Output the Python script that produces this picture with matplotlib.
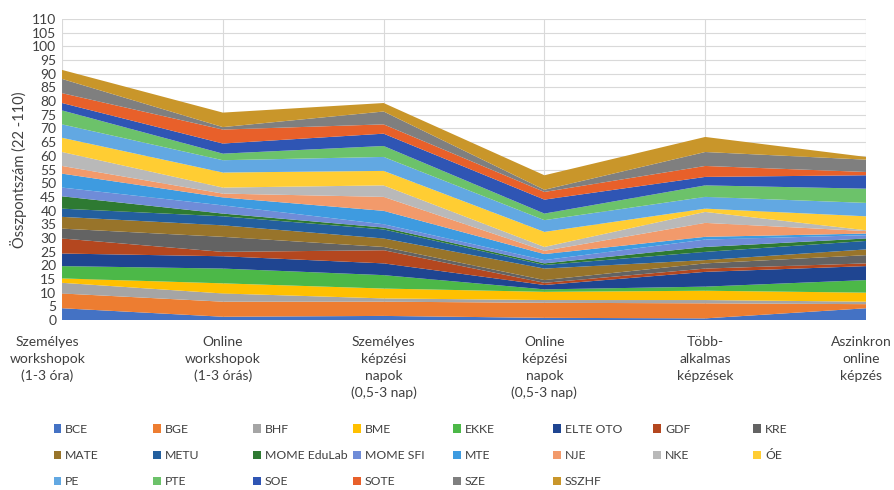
import matplotlib

matplotlib.use("Agg")

import matplotlib.pyplot as plt
from matplotlib.patches import Patch
from matplotlib.transforms import blended_transform_factory

plt.rcParams["font.family"] = ["Lato", "DejaVu Sans"]

categories = [
    "Személyes\nworkshopok\n(1-3 óra)",
    "Online\nworkshopok\n(1-3 órás)",
    "Személyes\nképzési\nnapok\n(0,5-3 nap)",
    "Online\nképzési\nnapok\n(0,5-3 nap)",
    "Több-\nalkalmas\nképzések",
    "Aszinkron\nonline\nképzés",
]

names = ["BCE", "BGE", "BHF", "BME", "EKKE", "ELTE OTO", "GDF", "KRE",
         "MATE", "METU", "MOME EduLab", "MOME SFI", "MTE", "NJE", "NKE", "ÓE",
         "PE", "PTE", "SOE", "SOTE", "SZE", "SSZHF"]

bce = [4.3, 1.2, 1.5, 0.8, 0.6, 4.3]
bge = [5.4, 5.5, 5.2, 5.5, 5.5, 1.5]
bhf = [3.9, 3.0, 1.2, 1.0, 1.2, 0.9]
bme = [1.6, 3.7, 3.6, 3.0, 3.4, 3.3]
ekke = [4.5, 5.4, 4.9, 0.9, 1.5, 4.6]
elte_oto = [4.6, 4.5, 4.3, 1.6, 5.4, 5.1]
gdf = [5.5, 1.6, 4.8, 0.8, 1.2, 1.0]
kre = [3.6, 5.5, 1.2, 1.0, 1.9, 3.0]
mate = [4.3, 4.2, 3.1, 4.2, 1.2, 2.1]
metu = [3.0, 3.3, 3.3, 1.3, 3.0, 3.1]
mome_edulab = [4.5, 1.0, 0.7, 0.6, 1.8, 0.9]
mome_sfi = [3.2, 3.0, 1.2, 1.2, 2.7, 1.2]
mte = [5.1, 2.9, 4.9, 2.2, 1.0, 0.6]
nje = [2.8, 1.4, 5.1, 1.2, 5.1, 0.9]
nke = [5.1, 2.2, 4.2, 1.4, 4.0, 0.3]
oe = [5.2, 5.5, 5.3, 5.5, 1.2, 5.1]
pe = [4.9, 4.5, 5.1, 4.3, 4.3, 4.9]
pte = [5.1, 2.4, 4.0, 2.4, 4.2, 5.2]
soe = [2.7, 3.7, 4.5, 5.1, 3.1, 4.9]
sote = [3.6, 5.1, 3.4, 2.8, 4.0, 1.2]
sze = [5.2, 0.9, 4.7, 0.8, 5.1, 4.5]
sszhf = [3.3, 5.3, 3.1, 5.3, 5.5, 1.0]

series = [bce, bge, bhf, bme, ekke, elte_oto, gdf, kre, mate, metu,
          mome_edulab, mome_sfi, mte, nje, nke, oe, pe, pte, soe, sote, sze, sszhf]

colors = ["#4472C4", "#ED7D31", "#A5A5A5", "#FFC000", "#4CB848", "#1F4591",
          "#B4471F", "#636363", "#98742A", "#235F9E", "#2E7A32", "#6F8CD8",
          "#3E9BE0", "#F29A6B", "#B9B9B9", "#FFCD33", "#62A8E2", "#6CC26A",
          "#2F55B4", "#E8602A", "#7F7F7F", "#C9962A"]

fig = plt.figure(figsize=(8.95, 4.9), dpi=100)
ax = fig.add_axes([0.0693, 0.3469, 0.8983, 0.6143])

x = list(range(len(categories)))
ax.stackplot(x, *series, colors=colors, labels=names, linewidth=0)

ax.set_xlim(0, len(categories) - 1)
ax.set_ylim(0, 110)
ax.set_yticks(range(0, 111, 5))
ax.tick_params(axis="y", length=0, labelsize=10, labelcolor="#404040", pad=4)
ax.set_xticks(x)
ax.set_xticklabels([])
ax.tick_params(axis="x", length=0)
ax.grid(True, color="#D9D9D9", linewidth=0.8)
ax.set_axisbelow(True)
for side in ["left", "right", "top", "bottom"]:
    ax.spines[side].set_visible(False)

ax.set_ylabel("Összpontszám (22 -110)", fontsize=10.5, color="#404040", labelpad=4)

# category labels under the plot
trans = blended_transform_factory(ax.transData, ax.transAxes)
shift = {0: -0.09, len(categories) - 1: -0.03}
for i, lab in enumerate(categories):
    ax.text(i + shift.get(i, 0), -0.052, lab, transform=trans, ha="center", va="top",
            fontsize=10, color="#404040", linespacing=1.5)

# legend: 8 columns with fixed spacing, filled row by row
handles = [Patch(facecolor=c, edgecolor="none") for c in colors]
ncol = 8
for j in range(ncol):
    idx = list(range(j, len(names), ncol))
    fig.legend([handles[k] for k in idx], [names[k] for k in idx],
               loc="upper left", bbox_to_anchor=(0.0598 + j * 0.1117, 0.135),
               bbox_transform=fig.transFigure, frameon=False, fontsize=8.8,
               handlelength=0.65, handleheight=0.65, handletextpad=0.3,
               labelspacing=1.24, borderaxespad=0, borderpad=0,
               labelcolor="#404040")

fig.savefig("out.png", dpi=100)
